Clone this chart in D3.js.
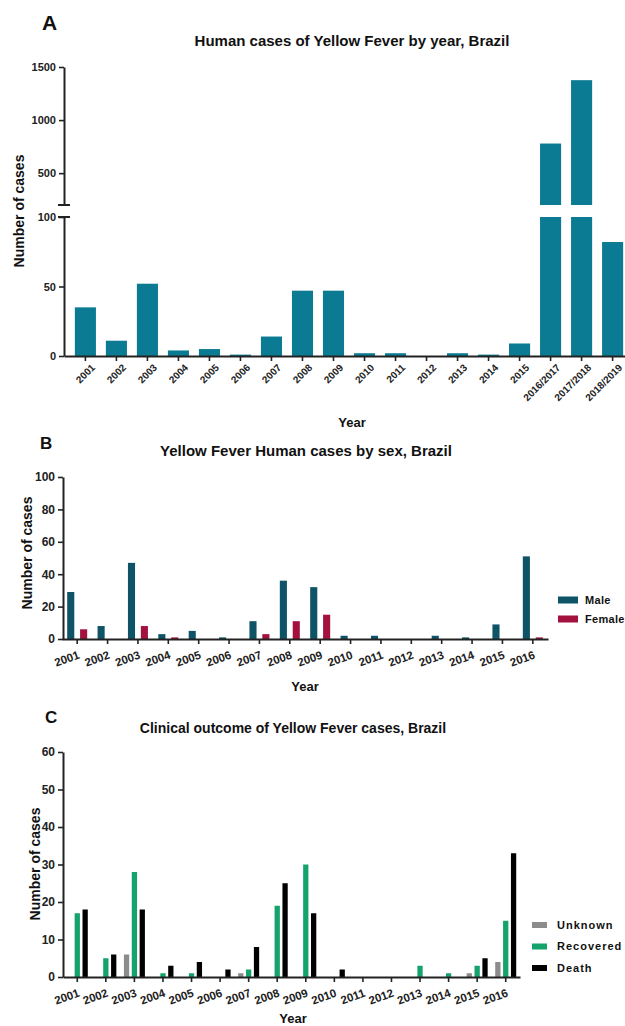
<!DOCTYPE html>
<html>
<head>
<meta charset="utf-8">
<script src="https://cdn.jsdelivr.net/npm/d3@7"></script>
<style>
  body { margin: 0; background: #fff; }
  svg { display: block; font-family: "Liberation Sans", Arial, sans-serif; }
  .axis path, .axis line { stroke: #222; }
  .axis path { stroke-width: 2px; }
  .axis line { stroke-width: 1.6px; }
  .axis text { font-weight: bold; fill: #222; }
  .ttl { font-weight: bold; fill: #111; }
</style>
</head>
<body>
<svg width="625" height="1026"></svg>
<script>
// Panel A data
var yearsA = ["2001", "2002", "2003", "2004", "2005", "2006", "2007", "2008", "2009",
  "2010", "2011", "2012", "2013", "2014", "2015", "2016/2017", "2017/2018", "2018/2019"];
var casesA = [35, 11, 52, 4, 5, 1, 14, 47, 47, 2, 2, 0, 2, 1, 9, 779, 1376, 82];
var ticksAUpper = [500, 1000, 1500];
var ticksALower = [0, 50, 100];

// Panels B and C data
var yearsBC = ["2001", "2002", "2003", "2004", "2005", "2006", "2007", "2008",
  "2009", "2010", "2011", "2012", "2013", "2014", "2015", "2016"];
var maleCases = [29, 8, 47, 3, 5, 1, 11, 36, 32, 2, 2, 0, 2, 1, 9, 51];
var femaleCases = [6, 0, 8, 1, 0, 0, 3, 11, 15, 0, 0, 0, 0, 0, 0, 1];
var ticksB = [0, 20, 40, 60, 80, 100];

var unknownCases = [0, 0, 6, 0, 0, 0, 1, 0, 0, 0, 0, 0, 0, 0, 1, 4];
var recoveredCases = [17, 5, 28, 1, 1, 0, 2, 19, 30, 0, 0, 0, 3, 1, 3, 15];
var deathCases = [18, 6, 18, 3, 4, 2, 8, 25, 17, 2, 0, 0, 0, 0, 5, 33];
var ticksC = [0, 10, 20, 30, 40, 50, 60];

var svg = d3.select("svg");
var fmt = d3.format("d");

function label(txt, x, y, size, extra) {
  var t = svg.append("text").attr("class", "ttl")
    .attr("x", x).attr("y", y)
    .attr("font-size", size)
    .text(txt);
  if (extra) t.attr("text-anchor", extra);
  return t;
}

function yLabel(x, y) {
  svg.append("text").attr("class", "ttl")
    .attr("transform", "translate(" + x + "," + y + ") rotate(-90)")
    .attr("text-anchor", "middle")
    .attr("font-size", 14)
    .text("Number of cases");
}

// ---------------- Panel A ----------------
label("A", 42, 30, 21);
label("Human cases of Yellow Fever by year, Brazil", 352, 46, 15, "middle");

var xA = d3.scaleBand().domain(yearsA).range([64, 634])
  .paddingInner(0.32).paddingOuter(0.35);
var yUpper = d3.scaleLinear().domain([200, 1500]).range([205, 67]);
var yLower = d3.scaleLinear().domain([0, 100]).range([356, 217]);

var dataA = yearsA.map(function(d, i) { return { year: d, value: casesA[i] }; });

// lower segment bars (clipped at 100)
svg.append("g").selectAll("rect")
  .data(dataA).enter().append("rect")
  .attr("x", function(d) { return xA(d.year); })
  .attr("width", xA.bandwidth())
  .attr("y", function(d) { return yLower(Math.min(d.value, 100)); })
  .attr("height", function(d) { return yLower(0) - yLower(Math.min(d.value, 100)); })
  .attr("fill", "#0b7b93");

// upper segment bars
svg.append("g").selectAll("rect")
  .data(dataA.filter(function(d) { return d.value > 200; })).enter().append("rect")
  .attr("x", function(d) { return xA(d.year); })
  .attr("width", xA.bandwidth())
  .attr("y", function(d) { return yUpper(d.value); })
  .attr("height", function(d) { return yUpper(200) - yUpper(d.value); })
  .attr("fill", "#0b7b93");

var axU = svg.append("g").attr("class", "axis")
  .attr("transform", "translate(64,0)")
  .call(d3.axisLeft(yUpper).tickValues(ticksAUpper).tickFormat(fmt).tickSize(5).tickSizeOuter(0));
axU.selectAll("text").attr("font-size", 11);
var axL = svg.append("g").attr("class", "axis")
  .attr("transform", "translate(64,0)")
  .call(d3.axisLeft(yLower).tickValues(ticksALower).tickFormat(fmt).tickSize(5).tickSizeOuter(0));
axL.selectAll("text").attr("font-size", 11);

// break caps
svg.append("line").attr("x1", 58).attr("x2", 70)
  .attr("y1", yUpper(200)).attr("y2", yUpper(200))
  .attr("stroke", "#222").attr("stroke-width", 2);
svg.append("line").attr("x1", 58).attr("x2", 70)
  .attr("y1", yLower(100)).attr("y2", yLower(100))
  .attr("stroke", "#222").attr("stroke-width", 2);

var axXA = svg.append("g").attr("class", "axis")
  .attr("transform", "translate(0," + yLower(0) + ")")
  .call(d3.axisBottom(xA).tickSize(5).tickSizeOuter(0));
axXA.selectAll("text")
  .attr("font-size", 10)
  .attr("text-anchor", "end")
  .attr("transform", "translate(4,3) rotate(-45)")
  .attr("dy", "0.6em")
  .attr("y", 5).attr("x", -2);

yLabel(24, 211);
label("Year", 352, 427, 13, "middle");

// ---------------- Panel B ----------------
label("B", 40, 449, 17);
label("Yellow Fever Human cases by sex, Brazil", 306, 456, 15, "middle");

var xB = d3.scaleBand().domain(yearsBC).range([62, 548]);
var subB = d3.scaleBand().domain(["Male", "Female"]).range([-10, 10]).paddingInner(0.45);
var yB = d3.scaleLinear().domain([0, 100]).range([639, 477]);
var colB = { Male: "#0e5366", Female: "#a3123f" };

var dataB = [];
yearsBC.forEach(function(y, i) {
  dataB.push({ year: y, key: "Male", value: maleCases[i] });
  dataB.push({ year: y, key: "Female", value: femaleCases[i] });
});

svg.append("g").selectAll("rect")
  .data(dataB).enter().append("rect")
  .attr("x", function(d) { return xB(d.year) + xB.bandwidth() / 2 + subB(d.key); })
  .attr("width", subB.bandwidth())
  .attr("y", function(d) { return yB(d.value); })
  .attr("height", function(d) { return yB(0) - yB(d.value); })
  .attr("fill", function(d) { return colB[d.key]; });

var axYB = svg.append("g").attr("class", "axis")
  .attr("transform", "translate(63,0)")
  .call(d3.axisLeft(yB).tickValues(ticksB).tickSize(5).tickSizeOuter(0));
axYB.selectAll("text").attr("font-size", 12);

var axXB = svg.append("g").attr("class", "axis")
  .attr("transform", "translate(0," + yB(0) + ")")
  .call(d3.axisBottom(xB).tickSize(5).tickSizeOuter(0));
axXB.selectAll("text")
  .attr("font-size", 11.5)
  .attr("text-anchor", "end")
  .attr("y", 0).attr("x", 0).attr("dy", 0)
  .attr("transform", "translate(3,19) rotate(-20)");

yLabel(32, 553);
label("Year", 305, 691, 13, "middle");

var legB = svg.append("g").selectAll("g")
  .data(["Male", "Female"]).enter().append("g")
  .attr("transform", function(d, i) { return "translate(558," + (600 + i * 19) + ")"; });
legB.append("rect").attr("x", 0).attr("y", -3.5).attr("width", 20).attr("height", 7)
  .attr("fill", function(d) { return colB[d]; });
legB.append("text").attr("class", "ttl").attr("x", 27).attr("dy", "0.35em")
  .attr("font-size", 11).attr("letter-spacing", 0.3)
  .text(function(d) { return d; });

// ---------------- Panel C ----------------
label("C", 45, 723, 17);
label("Clinical outcome of Yellow Fever cases, Brazil", 293, 733, 14, "middle");

var keysC = ["Unknown", "Recovered", "Death"];
var colC = { Unknown: "#8c8c8c", Recovered: "#14a36b", Death: "#000000" };
var xC = d3.scaleBand().domain(yearsBC).range([63, 520]);
var subC = d3.scaleBand().domain(keysC).range([-10.5, 10.5]).paddingInner(0.33);
var yC = d3.scaleLinear().domain([0, 60]).range([977, 752]);

var dataC = [];
yearsBC.forEach(function(y, i) {
  dataC.push({ year: y, key: "Unknown", value: unknownCases[i] });
  dataC.push({ year: y, key: "Recovered", value: recoveredCases[i] });
  dataC.push({ year: y, key: "Death", value: deathCases[i] });
});

svg.append("g").selectAll("rect")
  .data(dataC).enter().append("rect")
  .attr("x", function(d) { return xC(d.year) + xC.bandwidth() / 2 + subC(d.key); })
  .attr("width", subC.bandwidth())
  .attr("y", function(d) { return yC(d.value); })
  .attr("height", function(d) { return yC(0) - yC(d.value); })
  .attr("fill", function(d) { return colC[d.key]; });

var axYC = svg.append("g").attr("class", "axis")
  .attr("transform", "translate(63,0)")
  .call(d3.axisLeft(yC).tickValues(ticksC).tickSize(5).tickSizeOuter(0));
axYC.selectAll("text").attr("font-size", 12);

var axXC = svg.append("g").attr("class", "axis")
  .attr("transform", "translate(0," + yC(0) + ")")
  .call(d3.axisBottom(xC).tickSize(5).tickSizeOuter(0));
axXC.selectAll("text")
  .attr("font-size", 11.5)
  .attr("text-anchor", "end")
  .attr("y", 0).attr("x", 0).attr("dy", 0)
  .attr("transform", "translate(3,19) rotate(-20)");

yLabel(40, 864);
label("Year", 293, 1023, 13, "middle");

var legC = svg.append("g").selectAll("g")
  .data(keysC).enter().append("g")
  .attr("transform", function(d, i) { return "translate(532," + (925 + i * 21.5) + ")"; });
legC.append("rect").attr("x", 0).attr("y", -3).attr("width", 15).attr("height", 6)
  .attr("fill", function(d) { return colC[d]; });
legC.append("text").attr("class", "ttl").attr("x", 25).attr("dy", "0.35em")
  .attr("font-size", 11).attr("letter-spacing", 1)
  .text(function(d) { return d; });
</script>
</body>
</html>
